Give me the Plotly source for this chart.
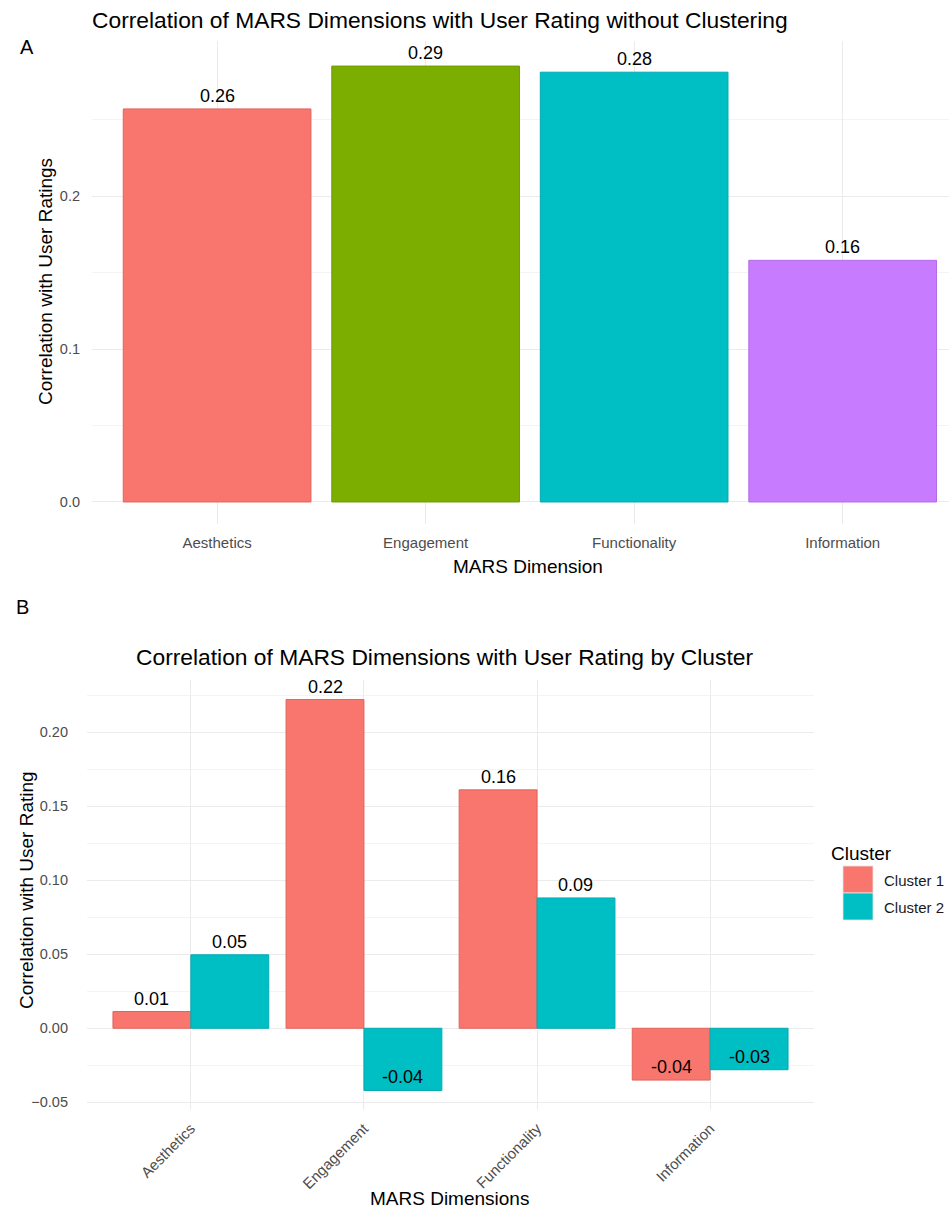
import plotly.graph_objects as go

# ---------------- data ----------------
dims = ["Aesthetics", "Engagement", "Functionality", "Information"]
overall_corr = [0.257, 0.285, 0.281, 0.158]
overall_labels = ["0.26", "0.29", "0.28", "0.16"]

clusters = ["Cluster 1", "Cluster 2"]
cluster1_corr = [0.0113, 0.222, 0.161, -0.035]
cluster2_corr = [0.0496, -0.042, 0.088, -0.028]
cluster1_labels = ["0.01", "0.22", "0.16", "-0.04"]
cluster2_labels = ["0.05", "-0.04", "0.09", "-0.03"]

# ---------------- style ----------------
RED = "#F8766D"
GREEN = "#7CAE00"
CYAN = "#00BFC4"
PURPLE = "#C77CFF"
dim_colors = [RED, GREEN, CYAN, PURPLE]
dim_lines = ["#E0655C", "#6E9C00", "#00AAB0", "#B36BE6"]
cluster_colors = [RED, CYAN]
cluster_lines = ["#E0655C", "#00AAB0"]
FONT = "Liberation Sans, Arial, sans-serif"
GRID = "#EBEBEB"
MINOR = "#F4F4F4"
TICKC = "#4D4D4D"

W, H = 949, 1214


def px_x(p):
    return p / W


def px_y(p):
    return 1 - p / H


fig = go.Figure()

# ---- Panel A ----
fig.add_trace(go.Bar(
    x=dims, y=overall_corr, width=0.9,
    marker=dict(color=dim_colors, line=dict(color=dim_lines, width=1)),
    xaxis="x", yaxis="y", showlegend=False, hoverinfo="x+y",
))

# ---- Panel B ----
for cname, vals, col, lc in zip(clusters, [cluster1_corr, cluster2_corr], cluster_colors, cluster_lines):
    fig.add_trace(go.Bar(
        x=dims, y=vals, name=cname,
        marker=dict(color=col, line=dict(color=lc, width=1)),
        xaxis="x2", yaxis="y2", showlegend=False, offsetgroup=cname,
    ))

annotations = []
# value labels panel A
for i, (v, t) in enumerate(zip(overall_corr, overall_labels)):
    annotations.append(dict(x=i, y=v, xref="x", yref="y", text=t, showarrow=False,
                            yanchor="bottom", yshift=1,
                            font=dict(family=FONT, size=18, color="#000000")))
# value labels panel B (dodged)
for k, (vals, labs) in enumerate([(cluster1_corr, cluster1_labels), (cluster2_corr, cluster2_labels)]):
    off = -0.225 if k == 0 else 0.225
    for i, (v, t) in enumerate(zip(vals, labs)):
        annotations.append(dict(x=i + off, y=v, xref="x2", yref="y2", text=t, showarrow=False,
                                yanchor="bottom", yshift=1,
                                font=dict(family=FONT, size=18, color="#000000")))

# titles, tags and axis titles
annotations += [
    dict(text="Correlation of MARS Dimensions with User Rating without Clustering",
         x=px_x(90), y=px_y(20), xref="paper", yref="paper", xanchor="left", yanchor="middle",
         showarrow=False, font=dict(family=FONT, size=22.8, color="#000000")),
    dict(text="A", x=px_x(18), y=px_y(47), xref="paper", yref="paper", xanchor="left", yanchor="middle",
         showarrow=False, font=dict(family=FONT, size=20, color="#000000")),
    dict(text="MARS Dimension", x=px_x(528), y=px_y(566), xref="paper", yref="paper",
         xanchor="center", yanchor="middle", showarrow=False,
         font=dict(family=FONT, size=19, color="#000000")),
    dict(text="Correlation with User Ratings", x=px_x(45), y=px_y(282), xref="paper", yref="paper",
         xanchor="center", yanchor="middle", textangle=-90, showarrow=False,
         font=dict(family=FONT, size=19, color="#000000")),
    dict(text="B", x=px_x(14), y=px_y(607), xref="paper", yref="paper", xanchor="left", yanchor="middle",
         showarrow=False, font=dict(family=FONT, size=20, color="#000000")),
    dict(text="Correlation of MARS Dimensions with User Rating by Cluster",
         x=px_x(444), y=px_y(657), xref="paper", yref="paper", xanchor="center", yanchor="middle",
         showarrow=False, font=dict(family=FONT, size=22.8, color="#000000")),
    dict(text="MARS Dimensions", x=px_x(449), y=px_y(1198), xref="paper", yref="paper",
         xanchor="center", yanchor="middle", showarrow=False,
         font=dict(family=FONT, size=19, color="#000000")),
    dict(text="Correlation with User Rating", x=px_x(26), y=px_y(890), xref="paper", yref="paper",
         xanchor="center", yanchor="middle", textangle=-90, showarrow=False,
         font=dict(family=FONT, size=19, color="#000000")),
    # legend
    dict(text="Cluster", x=px_x(829), y=px_y(853), xref="paper", yref="paper",
         xanchor="left", yanchor="middle", showarrow=False,
         font=dict(family=FONT, size=19, color="#000000")),
]
for j, cname in enumerate(clusters):
    annotations.append(dict(text=cname, x=px_x(882), y=px_y(880 + 27 * j), xref="paper", yref="paper",
                            xanchor="left", yanchor="middle", showarrow=False,
                            font=dict(family=FONT, size=15, color="#1A1A1A")))

shapes = []
for j, col in enumerate(cluster_colors):
    y0 = 866 + 27 * j
    shapes.append(dict(type="rect", xref="paper", yref="paper",
                       x0=px_x(843), x1=px_x(873), y0=px_y(y0), y1=px_y(y0 + 27),
                       fillcolor=col, line=dict(color="#E6E6E6", width=0.8)))

axis_common = dict(showline=False, zeroline=False, ticks="", gridcolor=GRID, gridwidth=1)

fig.update_layout(
    width=W, height=H,
    margin=dict(l=0, r=0, t=0, b=0),
    paper_bgcolor="white", plot_bgcolor="white",
    barmode="group", bargap=0.1, bargroupgap=0,
    font=dict(family=FONT, color=TICKC),
    xaxis=dict(domain=[px_x(92), 1.0], anchor="y", type="category", range=[-0.6, 3.51],
               tickfont=dict(size=15, color=TICKC), ticklabelstandoff=8, **axis_common),
    yaxis=dict(domain=[px_y(524), px_y(41)], anchor="x", range=[-0.0144, 0.3014],
               tickvals=[0.0, 0.1, 0.2], tickformat=".1f",
               tickfont=dict(size=14.5, color=TICKC),
               minor=dict(showgrid=True, gridcolor=MINOR, gridwidth=1, tickvals=[0.05, 0.15, 0.25]),
               ticklabelstandoff=11, **axis_common),
    xaxis2=dict(domain=[px_x(87), px_x(814)], anchor="y2", type="category", range=[-0.6, 3.6],
                tickangle=-45, tickfont=dict(size=15, color=TICKC), ticklabelstandoff=6, **axis_common),
    yaxis2=dict(domain=[px_y(1110), px_y(680)], anchor="x2", range=[-0.0552, 0.2352],
                tickvals=[-0.05, 0.0, 0.05, 0.10, 0.15, 0.20], tickformat=".2f",
                tickfont=dict(size=14.5, color=TICKC),
                minor=dict(showgrid=True, gridcolor=MINOR, gridwidth=1,
                           tickvals=[-0.025, 0.025, 0.075, 0.125, 0.175, 0.225]),
                ticklabelstandoff=18, **axis_common),
    annotations=annotations,
    shapes=shapes,
)

fig.write_html(
    "out.html",
    config={"displayModeBar": False},
    post_script="document.body.style.margin='0';document.body.style.overflow='hidden';",
)
